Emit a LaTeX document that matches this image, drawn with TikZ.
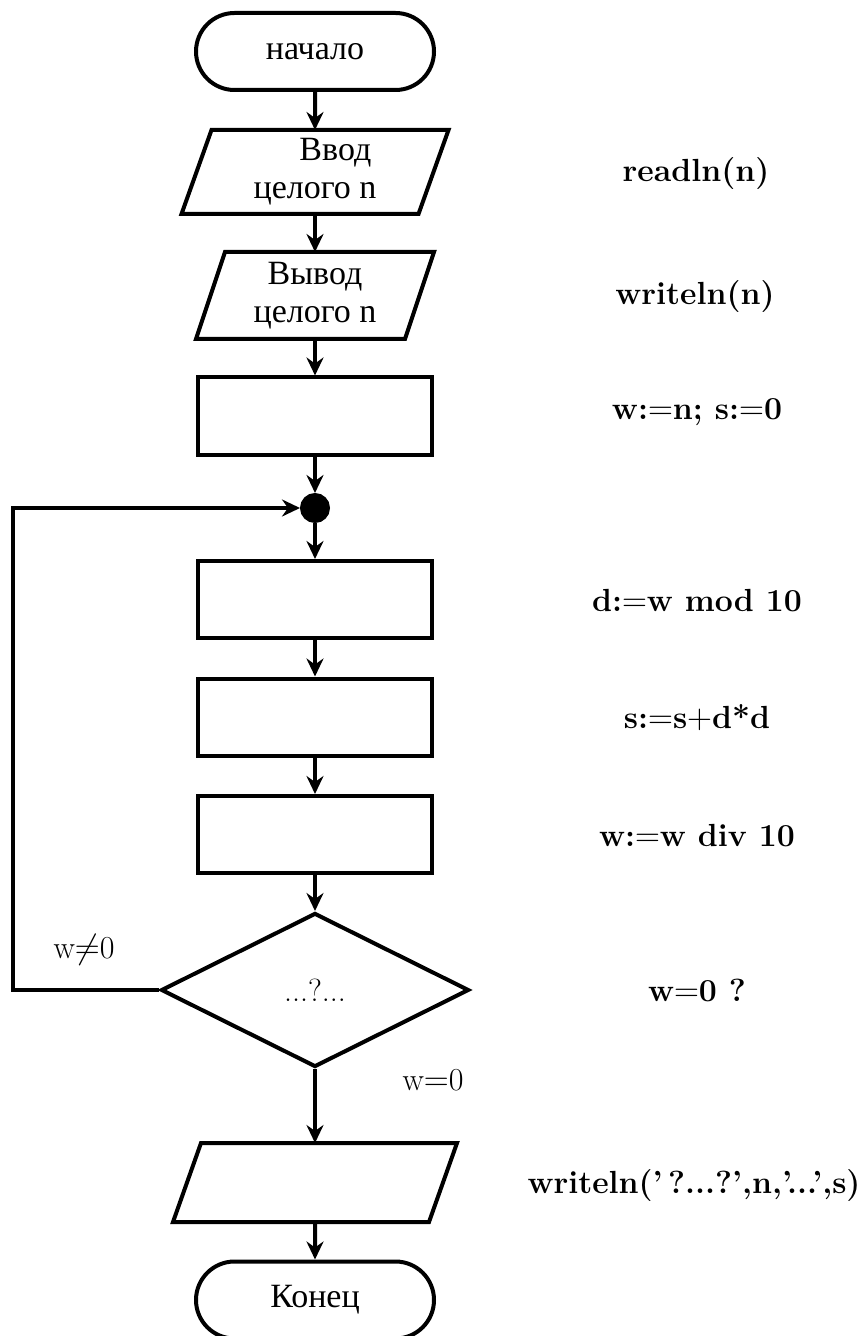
\documentclass[tikz,border=0pt]{standalone}
\usepackage{fontspec}
\newfontfamily\cyr{Liberation Serif}
\usetikzlibrary{shapes.misc,shapes.geometric,arrows.meta}
% parallelogram drawn round a named box: #1 box, #2 half of the slant
\newcommand\slantbox[2]{%
  \draw ([xshift=#2]#1.north west) -- ([xshift=#2]#1.north east)
     -- ([xshift=-#2]#1.south east) -- ([xshift=-#2]#1.south west) -- cycle;}
\begin{document}
\begin{tikzpicture}[x=0.5pt,y=-0.5pt,
  line width=2pt,
  every node/.style={font=\fontsize{16}{19}\selectfont},
  term/.style={rounded rectangle,draw,minimum width=119pt,minimum height=38.5pt,inner sep=0pt,font=\cyr\fontsize{17}{19}\selectfont},
  io/.style={rectangle,inner sep=0pt,align=center,font=\cyr\fontsize{17}{19}\selectfont},
  proc/.style={rectangle,draw,minimum width=117pt,minimum height=38.5pt,inner sep=0pt},
  cond/.style={diamond,draw,aspect=2,inner sep=0pt,minimum width=154pt,minimum height=77pt},
  junction/.style={circle,fill,draw,inner sep=0pt,minimum size=13pt},
  code/.style={font=\bfseries\fontsize{16}{19}\selectfont,anchor=center},
  flow/.style={-{Stealth[length=9pt,width=8.5pt,inset=3pt]}}]
\useasboundingbox (0,0) rectangle (866,1336);

% blocks
\node[term] (start) at (315,51.5) {начало};
\node[io,minimum width=116.5pt,minimum height=40pt] (in) at (315,172) {\hspace*{1.2em}Ввод\\целого n};
\slantbox{in}{7.5pt}
\node[io,minimum width=102.5pt,minimum height=41.5pt] (out) at (315,295.5) {Вывод\\целого n};
\slantbox{out}{7.25pt}
\node[proc] (init) at (315,416) {};
\node[junction] (j) at (315,508) {};
\node[proc] (digit) at (315,599.5) {};
\node[proc] (sum) at (315,717) {};
\node[proc] (shift) at (315,834.5) {};
\node[cond] (test) at (315,990) {...?...};
\node[io,minimum width=126pt,minimum height=37.5pt] (res) at (315,1182.5) {};
\slantbox{res}{7pt}
\node[term] (stop) at (315,1300) {Конец};

% connectors
\draw[flow] (start) -- (in);
\draw[flow] (in) -- (out);
\draw[flow] (out) -- (init);
\draw[flow] (init) -- (j);
\draw[flow] (j) -- (digit);
\draw[flow] (digit) -- (sum);
\draw[flow] (sum) -- (shift);
\draw[flow] (shift) -- (test);
\draw[flow] (test) -- (res);
\draw[flow] (res) -- (stop);
\coordinate (loop) at (13,990);
\draw[flow] (test.west) -- (loop) |- (j);

% branch labels
\node (ne) at (84,950) {w$\neq$0};
\node (eq) at (433,1080) {w$=$0};

% Pascal statements
\node[code] (c1) at (696,174) {readln(n)};
\node[code] (c2) at (695,297) {writeln(n)};
\node[code] (c3) at (697,412) {w:$=$n; s:$=$0};
\node[code] (c4) at (697,601) {d:$=$w mod 10};
\node[code] (c5) at (697,718) {s:$=$s$+$d*d};
\node[code] (c6) at (697,836) {w:$=$w div 10};
\node[code] (c7) at (697,990) {w$=$0 ?};
\node[code] (c8) at (694,1186) {writeln('\,?...?',n,'...',s)};
\end{tikzpicture}
\end{document}
